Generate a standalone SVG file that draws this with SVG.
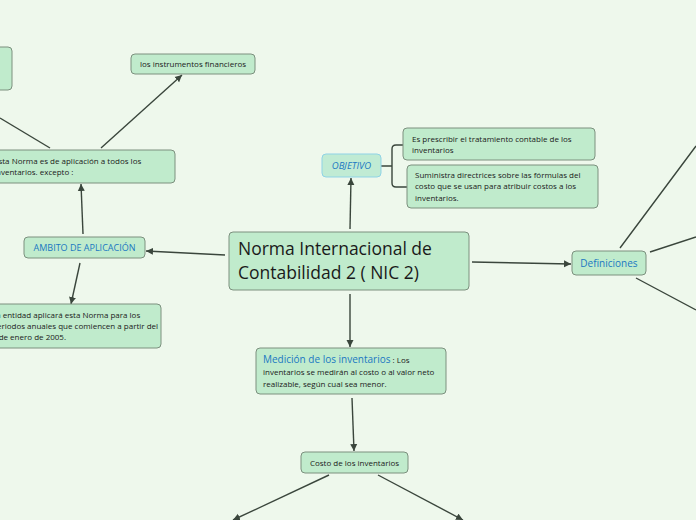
<svg xmlns="http://www.w3.org/2000/svg" width="696" height="520" viewBox="0 0 696 520">
<style>
.n{fill:#c0ebcc;stroke:#7c907e;stroke-width:1}
.t{font-family:"Open Sans","Noto Sans",sans-serif;font-size:8px;fill:#1a1a1a}
.b{fill:#1a78c2}
.c{stroke:#3a463c;stroke-width:1.4;fill:none}
</style>
<defs><marker id="a" markerWidth="8" markerHeight="8" refX="7" refY="4" orient="auto" markerUnits="userSpaceOnUse"><path d="M0,0.5L7,4L0,7.5z" fill="#3a463c"/></marker></defs>
<rect width="696" height="520" fill="#eef8ec"/>
<g id="connectors">
<path class="c" d="M225,255L146,251" marker-end="url(#a)"/>
<path class="c" d="M83,234L81,184" marker-end="url(#a)"/>
<path class="c" d="M101,148L182,75" marker-end="url(#a)"/>
<path class="c" d="M50,148L0,118"/>
<path class="c" d="M80,263L71,304" marker-end="url(#a)"/>
<path class="c" d="M350,229L351,178" marker-end="url(#a)"/>
<path class="c" d="M472,262L571,264" marker-end="url(#a)"/>
<path class="c" d="M350,294L350,347" marker-end="url(#a)"/>
<path class="c" d="M352,398L354,451" marker-end="url(#a)"/>
<path class="c" d="M329,475L233,520" marker-end="url(#a)"/>
<path class="c" d="M378,475L463,520" marker-end="url(#a)"/>
<path class="c" d="M620,248L696,146M650,252L696,237M636,278L696,310"/>
<path class="c" stroke-width="2" d="M381,166H392M403,145H396Q392,145 392,149V183Q392,187 396,187H407"/>
</g>
<g id="central"><rect class="n" x="229" y="232" width="240" height="58" rx="4"/>
<text class="t" style="font-size:17.5px" x="238" y="255">Norma Internacional de</text>
<text class="t" style="font-size:17.5px" x="238" y="279">Contabilidad 2 ( NIC 2)</text></g>
<g id="objetivo"><rect x="322" y="154" width="59" height="23" rx="4" fill="#c0ebd4" stroke="#8fd3e6"/>
<text class="t b" style="font-size:9.5px" x="351.5" y="169" text-anchor="middle" font-style="italic">OBJETIVO</text></g>
<g id="obj1"><rect class="n" x="403" y="128" width="192" height="32" rx="4"/>
<text class="t" x="412" y="142">Es prescribir el tratamiento contable de los</text>
<text class="t" x="412" y="153">inventarios</text></g>
<g id="obj2"><rect class="n" x="407" y="165" width="191" height="43" rx="4"/>
<text class="t" x="415" y="178">Suministra directrices sobre las fórmulas del</text>
<text class="t" x="415" y="189">costo que se usan para atribuir costos a los</text>
<text class="t" x="415" y="201">inventarios.</text></g>
<g id="definiciones"><rect class="n" x="572" y="251" width="74" height="24" rx="4"/>
<text class="t b" style="font-size:10px" x="609" y="266.5" text-anchor="middle">Definiciones</text></g>
<g id="medicion"><rect class="n" x="256" y="348" width="190" height="46" rx="4"/>
<text class="t" x="263" y="363"><tspan class="b" style="font-size:10px">Medición de los inventarios</tspan> : Los</text>
<text class="t" x="263" y="375">inventarios se medirán al costo o al valor neto</text>
<text class="t" x="263" y="387">realizable, según cual sea menor.</text></g>
<g id="costo"><rect class="n" x="301" y="452" width="107" height="21" rx="4"/>
<text class="t" x="354.5" y="466" text-anchor="middle">Costo de los inventarios</text></g>
<g id="ambito"><rect class="n" x="24" y="237" width="121" height="21" rx="4"/>
<text class="t b" style="font-size:9px" x="84.5" y="251" text-anchor="middle">AMBITO DE APLICACIÓN</text></g>
<g id="esta"><rect class="n" x="-20" y="150" width="195" height="33" rx="4"/>
<text class="t" x="-6" y="164">Esta Norma es de aplicación a todos los</text>
<text class="t" x="-6" y="175">inventarios. excepto :</text></g>
<g id="entidad"><rect class="n" x="-20" y="304" width="181" height="44" rx="4"/>
<text class="t" x="-8" y="318">La entidad aplicará esta Norma para los</text>
<text class="t" x="-8" y="329">periodos anuales que comiencen a partir del</text>
<text class="t" x="-8" y="340">1 de enero de 2005.</text></g>
<g id="instrumentos"><rect class="n" x="131" y="54" width="124" height="20" rx="4"/>
<text class="t" x="193" y="67" text-anchor="middle">los instrumentos financieros</text></g>
<g id="topleft"><rect class="n" x="-20" y="47" width="32" height="43" rx="4"/></g>
</svg>
